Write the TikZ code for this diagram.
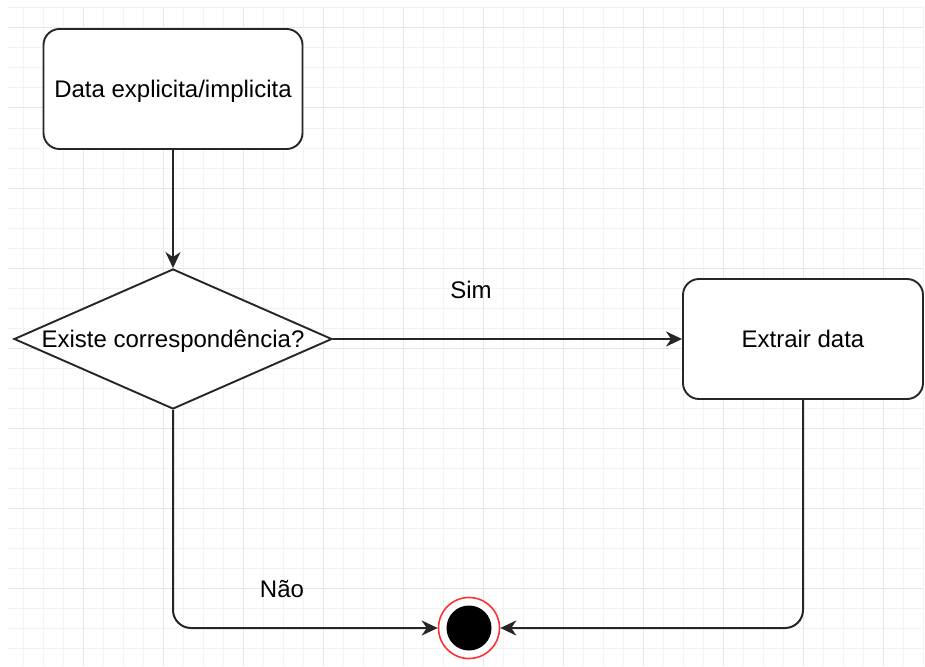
\documentclass[tikz,border=0pt]{standalone}
\usepackage{fontspec}
\setmainfont{Liberation Sans}
\usetikzlibrary{arrows.meta,shapes.geometric}
\definecolor{gridminor}{HTML}{F3F3F3}
\definecolor{gridmajor}{HTML}{E6E6E6}
\definecolor{edgecol}{HTML}{262626}
\definecolor{endred}{HTML}{FF3030}
\tikzset{
  every node/.style={font=\fontsize{24}{28}\selectfont, text=black,
    text height=17pt, text depth=0pt},
  statebox/.style={draw=edgecol, line width=1.9pt, rounded corners=16pt, fill=white,
    minimum width=259pt, minimum height=120pt, inner sep=0pt},
  decision/.style={draw=edgecol, line width=1.9pt, diamond, fill=white, aspect=2.27,
    minimum width=318pt, minimum height=140pt, inner sep=0pt},
  flow/.style={draw=edgecol, line width=2pt, rounded corners=18pt,
    -{Stealth[length=16pt, width=15pt, inset=5pt]}},
  lbl/.style={inner sep=0pt}
}
\begin{document}
\begin{tikzpicture}[x=1pt, y=-1pt]
  \useasboundingbox (0,0) rectangle (925,666);
  \fill[white] (0,0) rectangle (925,666);
  % background grid
  \foreach \gx in {23,43,...,923} \draw[gridminor, line width=1pt] (\gx,8) -- (\gx,666);
  \foreach \gy in {8,48,...,666} \draw[gridminor, line width=1pt] (8,\gy) -- (923,\gy);
  \foreach \gy in {68,148,...,666} \draw[gridminor, line width=1pt] (8,\gy) -- (923,\gy);
  \foreach \gx in {83,163,...,923} \draw[gridmajor, line width=1pt] (\gx,8) -- (\gx,666);
  \foreach \gy in {28,108,...,666} \draw[gridmajor, line width=1pt] (8,\gy) -- (923,\gy);

  % nodes
  \node[statebox] (data) at (173,89) {Data explicita/implicita};
  \node[decision] (match) at (173,339) {Existe correspondência?};
  \node[statebox, minimum width=240pt] (extract) at (803,339) {Extrair data};

  % final state
  \node[circle, draw=endred, line width=1.6pt, fill=white, minimum size=61pt, inner sep=0pt] (final) at (469,628) {};
  \fill[black] (final.center) circle[radius=22.5pt];

  % connectors
  \draw[flow] (data.south) -- (match.north);
  \draw[flow] (match.east) -- (extract.west);
  \draw[flow] (match.south) |- (final.west);
  \draw[flow] (extract.south) |- (final.east);

  % branch labels
  \node[lbl] (sim) at (471,290) {Sim};
  \node[lbl] (nao) at (282,589) {Não};
\end{tikzpicture}
\end{document}
